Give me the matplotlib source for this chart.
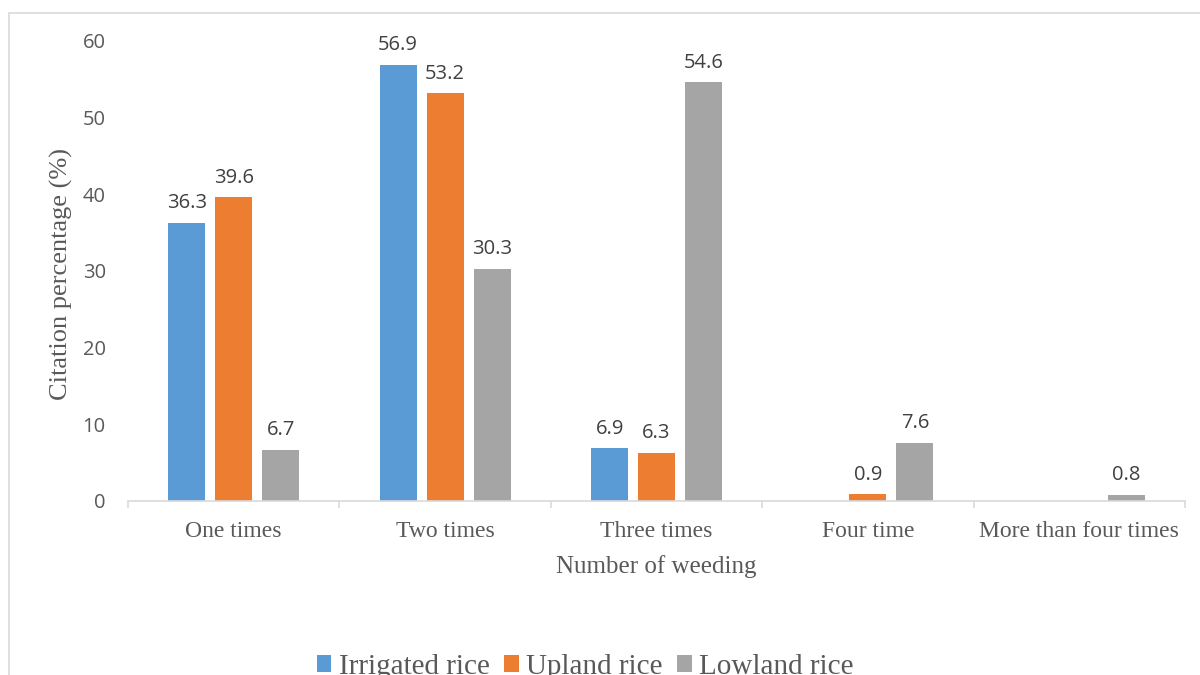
import matplotlib
matplotlib.use("Agg")
import matplotlib.pyplot as plt
from matplotlib.patches import Rectangle, Patch
import numpy as np

categories = ["One times", "Two times", "Three times", "Four time", "More than four times"]
series_names = ["Irrigated rice", "Upland rice", "Lowland rice"]
irrigated = [36.3, 56.9, 6.9, None, None]
upland = [39.6, 53.2, 6.3, 0.9, None]
lowland = [6.7, 30.3, 54.6, 7.6, 0.8]
colors = ["#5B9BD5", "#ED7D31", "#A5A5A5"]

W, H = 1200, 675
fig = plt.figure(figsize=(W / 100, H / 100), dpi=100)
fig.patch.set_facecolor("white")

# outer chart frame
fig.add_artist(Rectangle((9 / W, -0.1), 1.2, 1 - 13 / H + 0.1, transform=fig.transFigure,
                         fill=False, edgecolor="#D9D9D9", linewidth=1.2))

ax = fig.add_axes([128 / W, 1 - 501 / H, (1185 - 128) / W, (501 - 41) / H])
ax.set_xlim(0, 5)
ax.set_ylim(0, 60)

sans = ["Open Sans", "DejaVu Sans"]
serif = ["Liberation Serif", "DejaVu Serif"]
txtc = "#595959"

x = np.arange(len(categories)) + 0.5
bw = 0.175
step = 0.222
for i, (vals, c) in enumerate(zip([irrigated, upland, lowland], colors)):
    xs = [xi + (i - 1) * step for xi, v in zip(x, vals) if v is not None]
    vs = [v for v in vals if v is not None]
    ax.bar(xs, vs, width=bw, color=c, zorder=2)
    for xx, v in zip(xs, vs):
        ax.annotate(f"{v:.1f}", (xx, v), xytext=(0, 10.5), textcoords="offset points",
                    ha="center", va="baseline", fontsize=14.5, color="#404040", family=sans)

for s in ["top", "right", "left"]:
    ax.spines[s].set_visible(False)
ax.spines["bottom"].set_color("#D9D9D9")
ax.spines["bottom"].set_linewidth(1.2)

ax.set_yticks([0, 10, 20, 30, 40, 50, 60])
ax.tick_params(axis="y", length=0, pad=16, labelsize=14.5, labelcolor=txtc)
for lab in ax.get_yticklabels():
    lab.set_family(sans)

ax.set_xticks(np.arange(0, 6))
ax.set_xticklabels([])
ax.tick_params(axis="x", which="major", length=5, width=1.2, color="#D9D9D9", direction="out")
ax.set_xticks(x, minor=True)
ax.set_xticklabels(categories, minor=True, family=serif, fontsize=17, color=txtc)
ax.tick_params(axis="x", which="minor", length=0, pad=14.5)

ax_h = 501 - 41
ax_w = 1185 - 128
ax.set_xlabel("Number of weeding", family=serif, fontsize=18, color=txtc)
ax.xaxis.set_label_coords(0.5, -(573 - 501) / ax_h)
ax.xaxis.label.set_va("baseline")
ax.set_ylabel("Citation percentage (%)", family=serif, fontsize=19, color=txtc)
ax.yaxis.set_label_coords(-(128 - 61) / ax_w, (501 - 274) / ax_h)
ax.yaxis.label.set_va("center")

handles = [Patch(facecolor=c, edgecolor="none") for c in colors]
leg = fig.legend(handles, series_names, loc="center", bbox_to_anchor=(585 / W, 1 - 667 / H),
                 ncol=3, frameon=False, prop={"family": serif, "size": 21},
                 handlelength=0.5, handleheight=0.5, handletextpad=0.25, columnspacing=0.5,
                 borderaxespad=0, borderpad=0)
for t in leg.get_texts():
    t.set_color(txtc)

fig.savefig("out.png", dpi=100)
